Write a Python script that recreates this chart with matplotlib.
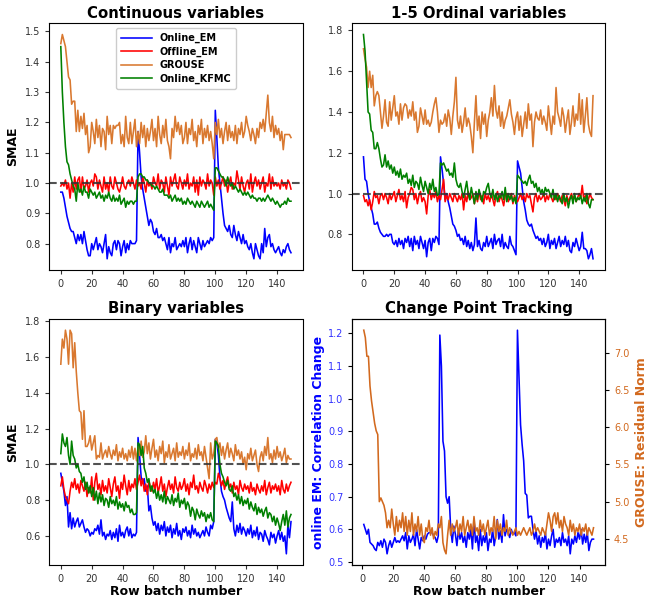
import matplotlib
matplotlib.use("Agg")
import matplotlib.pyplot as plt
import numpy as np

plt.rcParams['font.family'] = ['DejaVu Sans']

# ---------------- Data ----------------
batches = list(range(150))
cp_batches = list(range(1, 150))

cont_online_em = [
    0.97, 0.97, 0.95, 0.92, 0.89, 0.87, 0.85, 0.84, 0.84, 0.82,
    0.80, 0.83, 0.81, 0.83, 0.80, 0.84, 0.81, 0.78, 0.76, 0.76,
    0.80, 0.78, 0.80, 0.82, 0.78, 0.80, 0.79, 0.77, 0.80, 0.83,
    0.75, 0.79, 0.77, 0.76, 0.80, 0.81, 0.78, 0.81, 0.80, 0.76,
    0.79, 0.81, 0.77, 0.80, 0.78, 0.81, 0.80, 0.80, 0.80, 0.81,
    1.17, 1.10, 1.02, 0.98, 0.95, 0.92, 0.89, 0.86, 0.88, 0.87,
    0.84, 0.83, 0.85, 0.82, 0.82, 0.83, 0.81, 0.82, 0.80, 0.78,
    0.82, 0.77, 0.80, 0.79, 0.82, 0.78, 0.79, 0.80, 0.79, 0.81,
    0.79, 0.82, 0.77, 0.80, 0.82, 0.78, 0.81, 0.79, 0.77, 0.82,
    0.80, 0.78, 0.81, 0.79, 0.80, 0.81, 0.80, 0.82, 0.81, 0.82,
    1.24, 1.15, 1.05, 1.00, 0.95, 0.90, 0.86, 0.85, 0.84, 0.86,
    0.83, 0.82, 0.86, 0.83, 0.81, 0.84, 0.82, 0.80, 0.83, 0.80,
    0.81, 0.79, 0.78, 0.80, 0.77, 0.75, 0.80, 0.78, 0.76, 0.75,
    0.80, 0.77, 0.85, 0.79, 0.82, 0.83, 0.79, 0.80, 0.78, 0.77,
    0.78, 0.79, 0.77, 0.76, 0.78, 0.77, 0.79, 0.80, 0.78, 0.77]
cont_offline_em = [
    0.99, 1.00, 0.99, 1.01, 0.98, 1.00, 0.95, 1.00, 0.97, 1.02,
    0.98, 1.01, 1.02, 0.97, 1.02, 0.98, 0.99, 1.01, 0.97, 1.00,
    1.01, 0.99, 1.03, 1.02, 0.98, 1.01, 0.99, 0.97, 1.02, 0.98,
    1.00, 0.97, 1.02, 0.99, 0.98, 1.02, 1.00, 0.98, 0.97, 0.99,
    1.02, 0.99, 0.98, 1.00, 1.01, 0.99, 1.02, 1.00, 0.98, 1.01,
    0.99, 1.00, 0.98, 1.02, 1.00, 0.97, 1.01, 0.99, 1.00, 0.98,
    1.02, 1.00, 0.99, 1.03, 0.98, 1.01, 1.00, 0.97, 1.02, 0.99,
    0.96, 1.02, 0.99, 1.01, 1.03, 0.99, 0.98, 1.02, 1.00, 0.98,
    1.01, 0.99, 1.03, 0.98, 1.00, 0.99, 1.02, 0.97, 1.01, 0.96,
    1.02, 0.99, 1.01, 1.00, 0.98, 1.03, 0.99, 1.01, 1.00, 0.96,
    1.02, 0.99, 1.01, 0.98, 1.00, 1.02, 0.99, 1.01, 0.97, 1.00,
    1.02, 0.98, 1.00, 0.99, 1.04, 1.01, 0.98, 1.02, 0.99, 0.97,
    1.00, 1.01, 0.98, 1.03, 0.97, 1.00, 1.02, 0.99, 1.01, 0.98,
    1.00, 1.02, 0.97, 1.00, 0.99, 1.03, 0.98, 1.02, 0.99, 1.00,
    0.99, 1.00, 0.98, 1.01, 0.99, 1.00, 0.98, 1.01, 1.00, 0.98]
cont_grouse = [
    1.46, 1.49, 1.47, 1.45, 1.40, 1.35, 1.34, 1.26, 1.27, 1.27,
    1.17, 1.24, 1.17, 1.22, 1.18, 1.23, 1.16, 1.19, 1.10, 1.12,
    1.20, 1.17, 1.13, 1.21, 1.15, 1.19, 1.12, 1.18, 1.17, 1.11,
    1.22, 1.16, 1.19, 1.13, 1.19, 1.18, 1.19, 1.19, 1.20, 1.13,
    1.16, 1.12, 1.22, 1.15, 1.13, 1.20, 1.13, 1.17, 1.21, 1.12,
    1.17, 1.13, 1.20, 1.15, 1.19, 1.12, 1.18, 1.14, 1.17, 1.21,
    1.14, 1.18, 1.12, 1.22, 1.16, 1.13, 1.19, 1.15, 1.21, 1.14,
    1.12, 1.08, 1.18, 1.15, 1.22, 1.17, 1.20, 1.16, 1.19, 1.13,
    1.15, 1.20, 1.13, 1.18, 1.16, 1.21, 1.14, 1.17, 1.12, 1.19,
    1.16, 1.21, 1.13, 1.18, 1.15, 1.19, 1.14, 1.17, 1.13, 1.08,
    1.20, 1.16, 1.21, 1.15, 1.18, 1.13, 1.17, 1.20, 1.14, 1.19,
    1.15, 1.17, 1.14, 1.19, 1.13, 1.18, 1.16, 1.20, 1.15, 1.17,
    1.22, 1.19, 1.17, 1.14, 1.18, 1.16, 1.13, 1.18, 1.15, 1.20,
    1.18, 1.21, 1.17, 1.23, 1.29, 1.20, 1.17, 1.22, 1.15, 1.19,
    1.16, 1.18, 1.14, 1.17, 1.11, 1.16, 1.16, 1.16, 1.16, 1.15]
cont_kfmc = [
    1.45, 1.30, 1.20, 1.12, 1.07, 1.06, 1.03, 1.01, 0.99, 0.98,
    0.94, 1.00, 0.97, 0.98, 0.96, 0.99, 0.97, 0.97, 0.95, 0.98,
    0.97, 0.96, 0.97, 0.95, 0.96, 0.97, 0.95, 0.96, 0.94, 0.96,
    0.95, 0.97, 0.95, 0.94, 0.96, 0.94, 0.95, 0.94, 0.96, 0.93,
    0.94, 0.95, 0.92, 0.94, 0.93, 0.94, 0.94, 0.93, 0.94, 0.94,
    1.02, 1.03, 1.03, 1.02, 1.02, 1.01, 1.01, 1.00, 1.00, 0.99,
    0.99, 0.98, 0.99, 0.98, 0.97, 0.97, 0.98, 0.96, 0.96, 0.96,
    0.95, 0.96, 0.94, 0.95, 0.96, 0.94, 0.95, 0.94, 0.95, 0.93,
    0.94, 0.93, 0.95, 0.94, 0.93, 0.94, 0.93, 0.92, 0.94, 0.93,
    0.92, 0.94, 0.93, 0.92, 0.93, 0.94, 0.92, 0.93, 0.92, 0.91,
    1.05, 1.05, 1.04, 1.03, 1.02, 1.02, 1.01, 0.99, 1.02, 1.00,
    0.99, 1.00, 0.98, 0.99, 0.98, 0.97, 0.98, 0.97, 0.96, 0.97,
    0.96, 0.97, 0.96, 0.95, 0.96, 0.95, 0.95, 0.94, 0.95, 0.95,
    0.94, 0.95, 0.94, 0.95, 0.96, 0.95, 0.94, 0.95, 0.94, 0.93,
    0.94, 0.93, 0.92, 0.93, 0.93, 0.94, 0.93, 0.95, 0.94, 0.94]

ord_online_em = [
    1.18, 1.07, 1.06, 1.00, 0.96, 0.93, 0.90, 0.85, 0.85, 0.86,
    0.83, 0.81, 0.80, 0.79, 0.79, 0.80, 0.79, 0.80, 0.80, 0.76,
    0.75, 0.77, 0.74, 0.78, 0.75, 0.77, 0.73, 0.78, 0.76, 0.79,
    0.74, 0.78, 0.72, 0.79, 0.75, 0.77, 0.73, 0.79, 0.76, 0.73,
    0.77, 0.69, 0.76, 0.78, 0.72, 0.78, 0.76, 0.79, 0.78, 0.75,
    1.18, 1.12, 1.05, 0.97, 1.00, 0.96, 0.93, 0.89, 0.85, 0.84,
    0.82, 0.79, 0.80, 0.77, 0.78, 0.75, 0.79, 0.74, 0.77, 0.73,
    0.76, 0.72, 0.75, 0.88, 0.74, 0.77, 0.73, 0.72, 0.76, 0.74,
    0.79, 0.74, 0.76, 0.78, 0.73, 0.80, 0.75, 0.77, 0.78, 0.74,
    0.80, 0.73, 0.76, 0.74, 0.73, 0.79, 0.75, 0.74, 0.72, 0.70,
    1.16, 1.13, 1.10, 1.03, 0.96, 0.92, 0.87, 0.85, 0.84, 0.85,
    0.82, 0.80, 0.78, 0.79, 0.77, 0.78, 0.75, 0.78, 0.74, 0.76,
    0.80, 0.73, 0.77, 0.75, 0.78, 0.73, 0.76, 0.79, 0.74, 0.77,
    0.75, 0.79, 0.74, 0.77, 0.72, 0.71, 0.76, 0.74, 0.78, 0.75,
    0.72, 0.74, 0.81, 0.73, 0.73, 0.72, 0.68, 0.70, 0.73, 0.68]
ord_offline_em = [
    0.99, 0.96, 0.97, 0.94, 0.97, 0.92, 0.96, 1.01, 0.98, 0.99,
    0.95, 0.99, 1.00, 0.97, 1.00, 0.98, 0.95, 1.00, 0.97, 0.99,
    1.01, 0.96, 0.99, 1.02, 0.97, 0.99, 0.96, 1.01, 0.93, 0.98,
    1.00, 1.03, 1.02, 0.97, 1.00, 0.95, 0.99, 1.01, 0.96, 0.98,
    0.96, 0.90, 0.99, 1.02, 0.97, 1.00, 0.98, 1.01, 0.96, 0.99,
    0.97, 1.02, 1.07, 0.96, 0.99, 0.97, 1.00, 0.98, 0.96, 1.00,
    0.98, 0.96, 0.99, 0.97, 1.00, 0.92, 0.99, 0.96, 1.01, 0.97,
    0.98, 1.00, 0.95, 0.99, 0.96, 1.01, 0.97, 0.99, 0.95, 1.00,
    0.97, 0.99, 0.96, 1.00, 0.97, 0.94, 0.99, 1.01, 0.96, 0.99,
    0.97, 0.94, 0.99, 1.00, 0.96, 0.98, 1.00, 0.95, 0.99, 0.97,
    0.96, 0.98, 1.00, 0.97, 0.99, 0.96, 1.00, 0.98, 0.99, 0.95,
    0.91, 0.98, 1.00, 0.96, 0.99, 0.97, 0.98, 1.00, 0.96, 0.99,
    0.97, 1.00, 0.98, 0.96, 0.99, 0.97, 1.00, 0.98, 0.96, 0.99,
    0.97, 0.94, 0.99, 0.96, 0.98, 1.00, 0.97, 0.99, 0.96, 0.98,
    1.00, 0.98, 1.04, 0.97, 0.99, 0.95, 0.97, 1.00, 0.98, 0.97]
ord_grouse = [
    1.71, 1.66, 1.62, 1.52, 1.60, 1.52, 1.58, 1.43, 1.48, 1.50,
    1.48, 1.40, 1.32, 1.38, 1.46, 1.35, 1.33, 1.45, 1.36, 1.42,
    1.48, 1.38, 1.40, 1.34, 1.44, 1.36, 1.42, 1.44, 1.43, 1.37,
    1.41, 1.38, 1.45, 1.36, 1.40, 1.30, 1.33, 1.42, 1.38, 1.34,
    1.41, 1.34, 1.36, 1.33, 1.35, 1.40, 1.44, 1.47, 1.40, 1.30,
    1.36, 1.34, 1.35, 1.39, 1.33, 1.41, 1.37, 1.29, 1.38, 1.45,
    1.57, 1.36, 1.32, 1.38, 1.30, 1.35, 1.42, 1.33, 1.37, 1.34,
    1.28, 1.20, 1.35, 1.48, 1.31, 1.38, 1.27, 1.40, 1.34, 1.39,
    1.28, 1.36, 1.40, 1.47, 1.38, 1.53, 1.41, 1.37, 1.43, 1.33,
    1.40, 1.32, 1.36, 1.38, 1.42, 1.46, 1.39, 1.35, 1.29, 1.37,
    1.40, 1.31, 1.38, 1.28, 1.34, 1.40, 1.32, 1.44, 1.36, 1.39,
    1.23, 1.35, 1.40, 1.37, 1.36, 1.41, 1.34, 1.38, 1.35, 1.31,
    1.43, 1.36, 1.29, 1.38, 1.34, 1.52, 1.40, 1.37, 1.33, 1.42,
    1.38, 1.30, 1.36, 1.41, 1.29, 1.35, 1.43, 1.33, 1.39, 1.36,
    1.49, 1.34, 1.46, 1.30, 1.38, 1.47, 1.34, 1.30, 1.28, 1.48]
ord_kfmc = [
    1.78, 1.70, 1.55, 1.40, 1.39, 1.31, 1.30, 1.22, 1.22, 1.25,
    1.22, 1.17, 1.13, 1.14, 1.19, 1.13, 1.16, 1.12, 1.14, 1.10,
    1.13, 1.09, 1.11, 1.08, 1.12, 1.07, 1.09, 1.08, 1.10, 1.05,
    1.07, 1.04, 1.09, 1.03, 1.06, 1.05, 1.02, 1.08, 1.04, 1.01,
    1.06, 1.03, 1.00, 1.05, 1.02, 1.07, 1.01, 1.03, 0.99, 1.00,
    1.15, 1.14, 1.15, 1.13, 1.11, 1.12, 1.09, 1.10, 1.08, 1.15,
    1.07, 1.04, 1.03, 1.05, 1.01, 0.98, 1.02, 1.06, 1.00, 0.97,
    1.03, 0.99, 0.95, 1.01, 0.97, 1.02, 0.99, 0.96, 1.01, 1.00,
    1.03, 1.05, 1.00, 0.98, 1.02, 0.97, 1.00, 0.96, 0.99, 0.98,
    1.01, 0.97, 1.03, 0.96, 1.00, 0.97, 0.99, 0.96, 0.98, 0.95,
    1.09, 1.08, 1.07, 1.06, 1.05, 1.06, 1.04, 1.07, 1.09, 1.05,
    1.06, 1.03, 1.05, 1.01, 1.03, 1.00, 1.02, 0.99, 1.03, 1.01,
    1.02, 1.00, 0.98, 1.02, 0.97, 1.00, 0.96, 0.99, 0.97, 0.95,
    1.00, 0.96, 0.98, 0.93, 0.97, 0.99, 0.95, 1.00, 0.96, 0.98,
    0.97, 0.99, 0.95, 0.98, 0.96, 1.00, 0.95, 0.93, 0.97, 0.97]

bin_online_em = [
    0.95, 0.90, 0.85, 0.77, 0.82, 0.65, 0.73, 0.64, 0.70, 0.65,
    0.68, 0.70, 0.65, 0.67, 0.69, 0.65, 0.62, 0.64, 0.63, 0.60,
    0.62, 0.61, 0.64, 0.63, 0.66, 0.61, 0.69, 0.60, 0.62, 0.58,
    0.61, 0.60, 0.63, 0.58, 0.62, 0.59, 0.64, 0.57, 0.66, 0.60,
    0.62, 0.59, 0.63, 0.65, 0.60, 0.64, 0.59, 0.61, 0.60, 0.62,
    1.15, 1.05, 0.93, 0.90, 0.92, 0.85, 0.88, 0.74, 0.77, 0.70,
    0.66, 0.68, 0.63, 0.67, 0.61, 0.66, 0.63, 0.68, 0.60, 0.65,
    0.62, 0.66, 0.59, 0.64, 0.61, 0.67, 0.60, 0.63, 0.58, 0.64,
    0.62, 0.65, 0.60, 0.63, 0.59, 0.66, 0.61, 0.64, 0.60, 0.62,
    0.59, 0.61, 0.63, 0.60, 0.65, 0.62, 0.60, 0.66, 0.64, 0.68,
    1.14, 1.12, 1.05, 0.93, 0.85, 0.82, 0.80, 0.76, 0.73, 0.70,
    0.68, 0.79, 0.64, 0.60, 0.66, 0.62, 0.67, 0.61, 0.65, 0.63,
    0.60, 0.64, 0.61, 0.66, 0.59, 0.63, 0.60, 0.65, 0.58, 0.62,
    0.61, 0.57, 0.63, 0.60, 0.58, 0.55, 0.62, 0.59, 0.61, 0.56,
    0.60, 0.63, 0.58, 0.62, 0.57, 0.60, 0.50, 0.66, 0.59, 0.68]
bin_offline_em = [
    0.88, 0.93, 0.86, 0.82, 0.80, 0.78, 0.85, 0.90, 0.87, 0.92,
    0.86, 0.89, 0.84, 0.91, 0.88, 0.85, 0.90, 0.82, 0.87, 0.84,
    0.93, 0.80, 0.90, 0.95, 0.86, 0.89, 0.83, 0.91, 0.85, 0.88,
    0.84, 0.92, 0.87, 0.82, 0.89, 0.93, 0.85, 0.88, 0.81, 0.90,
    0.86, 0.94, 0.88, 0.83, 0.91, 0.85, 0.89, 0.87, 0.92, 0.86,
    0.90, 0.94, 0.88, 0.92, 0.85, 0.89, 0.83, 0.91, 0.87, 0.85,
    0.90, 0.86, 0.92, 0.84, 0.88, 0.93, 0.85, 0.89, 0.82, 0.87,
    0.91, 0.86, 0.89, 0.84, 0.93, 0.87, 0.85, 0.90, 0.86, 0.88,
    0.92, 0.85, 0.89, 0.83, 0.90, 0.87, 0.94, 0.86, 0.88, 0.84,
    0.90, 0.87, 0.85, 0.91, 0.88, 0.84, 0.89, 0.86, 0.90, 0.87,
    0.90, 0.89, 0.95, 0.92, 0.88, 0.91, 0.86, 0.90, 0.93, 0.87,
    0.89, 0.84, 0.90, 0.86, 0.88, 0.83, 0.91, 0.87, 0.85, 0.89,
    0.86, 0.88, 0.84, 0.90, 0.85, 0.87, 0.83, 0.89, 0.86, 0.84,
    0.88, 0.85, 0.91, 0.83, 0.87, 0.90, 0.84, 0.88, 0.86, 0.89,
    0.85, 0.88, 0.83, 0.91, 0.86, 0.84, 0.89, 0.85, 0.88, 0.90]
bin_grouse = [
    1.56, 1.70, 1.65, 1.75, 1.70, 1.56, 1.75, 1.73, 1.54, 1.68,
    1.52, 1.40, 1.30, 1.29, 1.14, 1.30, 1.10, 1.10, 1.12, 1.16,
    1.08, 1.12, 1.16, 1.03, 1.05, 1.04, 1.12, 1.03, 1.06, 1.08,
    1.04, 1.10, 1.06, 1.03, 1.08, 1.05, 1.11, 1.02, 1.07, 1.04,
    1.09, 1.03, 1.06, 1.02, 1.08, 1.04, 1.10, 1.03, 1.09, 1.02,
    1.10, 1.05, 1.13, 1.04, 1.07, 1.16, 1.06, 1.12, 1.03, 1.09,
    1.14, 1.04, 1.08, 1.02, 1.10, 1.06, 1.13, 1.01, 1.07, 1.04,
    1.11, 1.03, 1.06, 1.09, 1.02, 1.12, 1.04, 1.07, 1.05, 1.10,
    1.03, 1.08, 1.05, 1.12, 1.02, 1.06, 1.04, 1.09, 1.03, 1.11,
    1.05, 1.07, 1.02, 1.10, 1.04, 0.98, 0.92, 1.12, 1.03, 1.06,
    1.14, 1.15, 1.09, 1.12, 1.05, 1.10, 1.03, 1.08, 1.12, 1.04,
    1.09, 1.06, 1.02, 1.11, 1.05, 1.08, 1.03, 1.07, 1.00, 1.04,
    0.97, 1.06, 1.03, 1.09, 1.02, 1.05, 1.08, 1.00, 0.96, 1.04,
    1.07, 1.02, 1.10, 1.05, 1.15, 1.03, 1.06, 1.01, 1.08, 1.03,
    1.10, 1.04, 1.07, 1.02, 1.05, 1.09, 1.01, 1.05, 1.03, 1.03]
bin_kfmc = [
    1.06, 1.17, 1.12, 1.10, 1.15, 1.05, 1.00, 1.13, 1.05, 1.03,
    0.98, 1.00, 0.96, 0.95, 0.90, 0.93, 0.86, 0.90, 0.84, 0.88,
    0.82, 0.87, 0.80, 0.85, 0.78, 0.84, 0.79, 0.83, 0.77, 0.81,
    0.80, 0.76, 0.82, 0.78, 0.80, 0.77, 0.82, 0.75, 0.79, 0.76,
    0.78, 0.74, 0.79, 0.76, 0.77, 0.73, 0.75, 0.72, 0.72, 0.73,
    1.12, 1.11, 1.05, 1.10, 0.98, 0.95, 0.90, 0.92, 0.85, 0.88,
    0.84, 0.86, 0.81, 0.85, 0.80, 0.83, 0.79, 0.85, 0.78, 0.82,
    0.80, 0.78, 0.83, 0.77, 0.81, 0.79, 0.84, 0.76, 0.80, 0.78,
    0.81, 0.75, 0.79, 0.77, 0.71, 0.76, 0.74, 0.69, 0.75, 0.72,
    0.70, 0.74, 0.71, 0.73, 0.68, 0.72, 0.70, 0.73, 0.69, 0.68,
    1.13, 1.12, 1.10, 1.00, 0.95, 0.93, 0.90, 0.88, 0.91, 0.86,
    0.85, 0.88, 0.82, 0.84, 0.80, 0.83, 0.78, 0.82, 0.77, 0.80,
    0.78, 0.81, 0.75, 0.79, 0.76, 0.74, 0.78, 0.72, 0.76, 0.73,
    0.75, 0.71, 0.74, 0.76, 0.70, 0.73, 0.72, 0.68, 0.71, 0.66,
    0.70, 0.67, 0.63, 0.68, 0.72, 0.66, 0.74, 0.65, 0.70, 0.72]

cp_online_em = [
    0.615, 0.600, 0.585, 0.600, 0.560, 0.555, 0.550, 0.540, 0.535, 0.560,
    0.550, 0.565, 0.545, 0.570, 0.560, 0.525, 0.550, 0.565, 0.545, 0.560,
    0.575, 0.560, 0.565, 0.560, 0.570, 0.580, 0.565, 0.590, 0.540, 0.580,
    0.560, 0.570, 0.585, 0.550, 0.600, 0.570, 0.540, 0.575, 0.565, 0.580,
    0.570, 0.585, 0.590, 0.590, 0.590, 0.580, 0.575, 0.560, 0.580, 1.195,
    1.100, 0.870, 0.840, 0.700, 0.680, 0.700, 0.600, 0.560, 0.610, 0.585,
    0.550, 0.600, 0.570, 0.590, 0.560, 0.580, 0.545, 0.590, 0.570, 0.600,
    0.540, 0.630, 0.560, 0.580, 0.535, 0.600, 0.550, 0.580, 0.560, 0.590,
    0.535, 0.570, 0.560, 0.600, 0.550, 0.580, 0.630, 0.570, 0.595, 0.560,
    0.645, 0.580, 0.600, 0.590, 0.575, 0.600, 0.585, 0.590, 0.580, 1.210,
    1.060, 0.920, 0.860, 0.810, 0.710, 0.705, 0.635, 0.640, 0.640, 0.600,
    0.570, 0.595, 0.555, 0.580, 0.545, 0.575, 0.560, 0.590, 0.540, 0.570,
    0.550, 0.580, 0.600, 0.545, 0.570, 0.560, 0.575, 0.550, 0.590, 0.560,
    0.570, 0.550, 0.580, 0.525, 0.570, 0.555, 0.580, 0.560, 0.590, 0.570,
    0.600, 0.555, 0.585, 0.560, 0.590, 0.535, 0.560, 0.570, 0.570]
cp_grouse = [
    7.30, 7.20, 6.95, 6.95, 6.55, 6.35, 6.20, 6.05, 5.95, 5.90,
    5.00, 5.05, 5.00, 4.95, 4.85, 4.65, 4.75, 4.65, 4.90, 4.70,
    4.55, 4.80, 4.60, 4.75, 4.65, 4.85, 4.60, 4.80, 4.55, 4.75,
    4.60, 4.85, 4.55, 4.70, 4.60, 4.80, 4.55, 4.70, 4.50, 4.45,
    4.65, 4.60, 4.75, 4.55, 4.65, 4.50, 4.60, 4.55, 4.70, 4.65,
    4.80, 4.45, 4.35, 4.30, 4.55, 4.75, 4.55, 4.70, 4.60, 4.65,
    4.75, 4.55, 4.70, 4.60, 4.80, 4.55, 4.65, 4.75, 4.60, 4.70,
    4.55, 4.80, 4.60, 4.65, 4.55, 4.75, 4.60, 4.70, 4.55, 4.65,
    4.75, 4.55, 4.65, 4.60, 4.80, 4.50, 4.75, 4.60, 4.70, 4.55,
    4.65, 4.60, 4.75, 4.55, 4.65, 4.60, 4.55, 4.60, 4.65, 4.55,
    4.60, 4.55, 4.60, 4.65, 4.60, 4.55, 4.60, 4.65, 4.55, 4.60,
    4.70, 4.60, 4.65, 4.60, 4.55, 4.65, 4.60, 4.55, 4.70, 4.85,
    4.75, 4.60, 4.80, 4.85, 4.70, 4.85, 4.65, 4.75, 4.60, 4.80,
    4.70, 4.65, 4.55, 4.75, 4.60, 4.70, 4.55, 4.65, 4.60, 4.70,
    4.55, 4.65, 4.60, 4.70, 4.55, 4.65, 4.60, 4.55, 4.65]

series_names = ['Online_EM', 'Offline_EM', 'GROUSE', 'Online_KFMC']
series_colors = ['blue', 'red', '#D9782F', 'green']
panel_titles = ['Continuous variables', '1-5 Ordinal variables',
                'Binary variables', 'Change Point Tracking']

# ---------------- Figure ----------------
W, H = 647, 600
fig = plt.figure(figsize=(W / 100, H / 100), dpi=100)

def axrect(l, r, t, b):
    return [l / W, 1 - b / H, (r - l) / W, (b - t) / H]

ax1 = fig.add_axes(axrect(49.3, 302.5, 23.3, 270))
ax2 = fig.add_axes(axrect(352.0, 604.5, 23.3, 270))
ax3 = fig.add_axes(axrect(49.3, 302.5, 319, 565))
ax4 = fig.add_axes(axrect(352.3, 605.0, 319, 565))

TICK_FS = 7
LAB_FS = 9
TITLE_FS = 10.7
LW = 1.15

panels = [
    (ax1, [cont_online_em, cont_offline_em, cont_grouse, cont_kfmc]),
    (ax2, [ord_online_em, ord_offline_em, ord_grouse, ord_kfmc]),
    (ax3, [bin_online_em, bin_offline_em, bin_grouse, bin_kfmc]),
]
for i, (ax, data) in enumerate(panels):
    for name, col, vals in zip(series_names, series_colors, data):
        ax.plot(batches, vals, color=col, lw=LW, label=name)
    ax.axhline(1.0, color='#333333', ls='--', lw=1.5, alpha=0.85)
    ax.set_title(panel_titles[i], fontsize=TITLE_FS, fontweight='bold', pad=4)
    ax.tick_params(labelsize=TICK_FS, length=3, colors='#333333', labelcolor='#333333')
    ax.set_xticks([0, 20, 40, 60, 80, 100, 120, 140])

ax1.set_ylabel('SMAE', fontsize=LAB_FS, fontweight='bold')
ax3.set_ylabel('SMAE', fontsize=LAB_FS, fontweight='bold')
ax3.set_xlabel('Row batch number', fontsize=LAB_FS, fontweight='bold', labelpad=1)

leg = ax1.legend(loc='upper center', prop={'weight': 'bold', 'size': 7},
                 handlelength=3.2, labelspacing=0.35, borderpad=0.5,
                 framealpha=1.0, edgecolor='#cccccc')

# Change point panel
ax4.plot(cp_batches, cp_online_em, color='blue', lw=LW)
ax4.set_ylabel('online EM: Correlation Change', color='blue',
               fontsize=LAB_FS, fontweight='bold', labelpad=2)
ax4.tick_params(axis='y', labelcolor='#3333ff', labelsize=TICK_FS, length=3)
ax4.tick_params(axis='x', labelsize=TICK_FS, length=3, labelcolor='#333333')
ax4.set_xticks([0, 20, 40, 60, 80, 100, 120, 140])
ax4.set_xlabel('Row batch number', fontsize=LAB_FS, fontweight='bold', labelpad=1)
ax4.set_title(panel_titles[3], fontsize=TITLE_FS, fontweight='bold', pad=4)

ax4r = ax4.twinx()
ax4r.plot(cp_batches, cp_grouse, color='#D2691E', lw=LW)
ax4r.set_ylabel('GROUSE: Residual Norm', color='#D2691E',
                fontsize=LAB_FS, fontweight='bold')
ax4r.tick_params(axis='y', labelcolor='#D2691E', labelsize=TICK_FS, length=3)

fig.savefig('out.png', dpi=100)
